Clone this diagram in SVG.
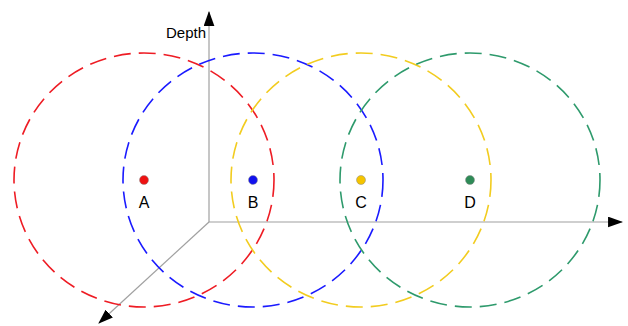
<svg xmlns="http://www.w3.org/2000/svg" width="628" height="326" viewBox="0 0 628 326">
<defs>
<style>
.axis{stroke:#a0a0a0;stroke-width:1.2;fill:none}
.ring{fill:none;stroke-width:1.6;stroke-dasharray:17 8}
.dot{stroke:#888;stroke-width:0.5}
.lbl{font-family:"Liberation Sans",Arial,sans-serif;font-size:16px;fill:#000;text-anchor:middle}
</style>
<marker id="arr" viewBox="0 0 14 10" refX="13" refY="5" markerWidth="15" markerHeight="11" markerUnits="userSpaceOnUse" orient="auto">
<path d="M0,0 L14,5 L0,10 Z" fill="#000"/>
</marker>
</defs>
<g id="connectors">
<line class="axis" x1="209" y1="222" x2="209" y2="12" marker-end="url(#arr)"/>
<line class="axis" x1="209" y1="222" x2="622" y2="222" marker-end="url(#arr)"/>
<line class="axis" x1="209" y1="222" x2="99" y2="323" marker-end="url(#arr)"/>
</g>
<g id="circleA"><ellipse class="ring" cx="144" cy="180" rx="130" ry="127" stroke="#ee1c24"/></g>
<g id="circleB"><ellipse class="ring" cx="253" cy="180" rx="130" ry="127" stroke="#1a1aff"/></g>
<g id="circleC"><ellipse class="ring" cx="361" cy="180" rx="130" ry="127" stroke="#f2cc1f"/></g>
<g id="circleD"><ellipse class="ring" cx="470" cy="180" rx="130" ry="127" stroke="#2e9a6c"/></g>
<g id="A"><circle class="dot" cx="144" cy="180" r="4.5" fill="#ee1111"/><text class="lbl" x="144" y="208">A</text></g>
<g id="B"><circle class="dot" cx="253" cy="180" r="4.5" fill="#1111ee"/><text class="lbl" x="253" y="208">B</text></g>
<g id="C"><circle class="dot" cx="361" cy="180" r="4.5" fill="#f5c400"/><text class="lbl" x="361" y="208">C</text></g>
<g id="D"><circle class="dot" cx="470" cy="180" r="4.5" fill="#2e8b57"/><text class="lbl" x="470" y="208">D</text></g>
<g id="depth"><text x="186" y="38" font-family="Liberation Sans, Arial, sans-serif" font-size="15" text-anchor="middle" fill="#000">Depth</text></g>
</svg>
